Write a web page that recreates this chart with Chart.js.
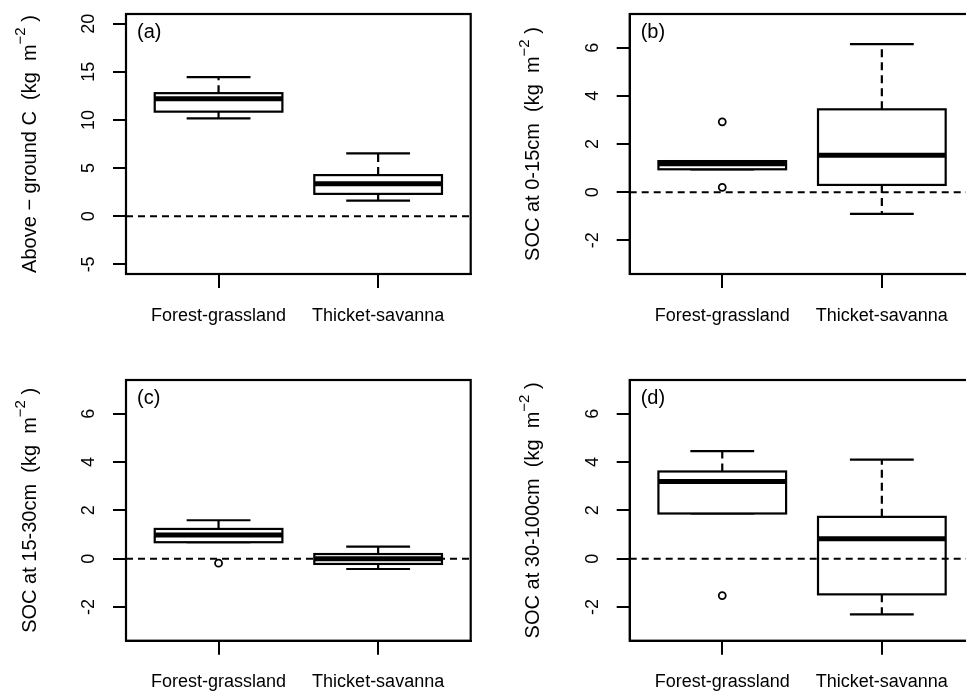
<!DOCTYPE html>
<html>
<head>
<meta charset="utf-8">
<script src="https://cdn.jsdelivr.net/npm/chart.js@4.4.0/dist/chart.umd.min.js"></script>
<style>
  html, body { margin: 0; padding: 0; background: #fff; overflow: hidden; }
  #wrap { position: relative; width: 966px; height: 692px; overflow: hidden; }
  canvas { position: absolute; }
</style>
</head>
<body>
<div id="wrap">
  <canvas id="pa" width="483" height="346" style="left:0;top:0"></canvas>
  <canvas id="pb" width="504" height="346" style="left:483px;top:0"></canvas>
  <canvas id="pc" width="483" height="346" style="left:0;top:346px"></canvas>
  <canvas id="pd" width="504" height="346" style="left:483px;top:346px"></canvas>
</div>
<script>
const groups = ['Forest-grassland', 'Thicket-savanna'];

// [lower whisker, Q1, median, Q3, upper whisker]
const agcForest = [10.17, 10.86, 12.19, 12.78, 14.45];
const agcThicket = [1.63, 2.32, 3.37, 4.27, 6.53];
const agcOutliers = [[], []];

const soc0Forest = [0.95, 0.95, 1.18, 1.29, 1.29];
const soc0Thicket = [-0.90, 0.30, 1.53, 3.44, 6.15];
const soc0Outliers = [[2.92, 0.20], []];

const soc15Forest = [0.68, 0.68, 0.98, 1.23, 1.59];
const soc15Thicket = [-0.43, -0.22, -0.01, 0.19, 0.50];
const soc15Outliers = [[-0.19], []];

const soc30Forest = [1.87, 1.87, 3.19, 3.61, 4.45];
const soc30Thicket = [-2.31, -1.48, 0.82, 1.73, 4.10];
const soc30Outliers = [[-1.53], []];

const agcTicks = [-5, 0, 5, 10, 15, 20];
const socTicks = [-2, 0, 2, 4, 6];

const fam = '"Liberation Sans", Arial, sans-serif';
Chart.defaults.font.family = fam;
Chart.defaults.color = '#000';

function drawLine(ctx, x1, y1, x2, y2) {
  ctx.beginPath();
  ctx.moveTo(x1, y1);
  ctx.lineTo(x2, y2);
  ctx.stroke();
}

function makePanel(id, letter, title, stats, outliers, yMin, yMax, yTicks, lay) {
  // outliers -> scatter points
  const outPts = [];
  outliers.forEach((list, i) => list.forEach(v => outPts.push({ x: i + 1, y: v })));

  const boxPlugin = {
    id: 'boxes',
    beforeDatasetsDraw(chart) {
      const { ctx, scales: { x, y } } = chart;
      stats.forEach((s, i) => {
        const cx = x.getPixelForValue(i + 1);
        const hw = x.getPixelForValue(i + 1.4) - cx;
        const cw = hw / 2;
        const [lo, q1, med, q3, hi] = s.map(v => y.getPixelForValue(v));
        ctx.save();
        ctx.strokeStyle = '#000';
        ctx.lineWidth = 2.2;
        ctx.setLineDash([8, 5]);
        drawLine(ctx, cx, q3, cx, hi);
        drawLine(ctx, cx, q1, cx, lo);
        ctx.setLineDash([]);
        drawLine(ctx, cx - cw, hi, cx + cw, hi);
        drawLine(ctx, cx - cw, lo, cx + cw, lo);
        ctx.fillStyle = '#fff';
        ctx.fillRect(cx - hw, q3, 2 * hw, q1 - q3);
        ctx.strokeRect(cx - hw, q3, 2 * hw, q1 - q3);
        ctx.lineWidth = 5;
        drawLine(ctx, cx - hw, med, cx + hw, med);
        ctx.restore();
      });
    }
  };

  const textPlugin = {
    id: 'texts',
    afterDraw(chart) {
      const { ctx, chartArea: a, scales: { y } } = chart;
      ctx.save();
      ctx.strokeStyle = '#000';
      ctx.lineWidth = 2.2;
      ctx.strokeRect(a.left, a.top, a.right - a.left, a.bottom - a.top);

      ctx.fillStyle = '#000';
      ctx.font = '20px ' + fam;
      ctx.textAlign = 'left';
      ctx.textBaseline = 'alphabetic';
      ctx.fillText(letter, a.left + 11, a.top + 24);

      // y tick labels, parallel to the axis
      ctx.font = '18px ' + fam;
      ctx.textAlign = 'center';
      ctx.textBaseline = 'middle';
      yTicks.forEach(v => {
        ctx.save();
        ctx.translate(a.left - 37, y.getPixelForValue(v));
        ctx.rotate(-Math.PI / 2);
        ctx.fillText(String(v), 0, 0);
        ctx.restore();
      });

      // y title with superscript
      const main = title + '  (kg  m';
      const sup = '\u22122';
      ctx.translate(a.left - 96, (a.top + a.bottom) / 2);
      ctx.rotate(-Math.PI / 2);
      ctx.textAlign = 'left';
      ctx.font = '20px ' + fam;
      const w1 = ctx.measureText(main).width;
      const w3 = ctx.measureText(' )').width;
      ctx.font = '15px ' + fam;
      const w2 = ctx.measureText(sup).width;
      let pos = -(w1 + w2 + w3) / 2;
      ctx.font = '20px ' + fam;
      ctx.fillText(main, pos, 0);
      pos += w1;
      ctx.font = '15px ' + fam;
      ctx.fillText(sup, pos, -9);
      pos += w2;
      ctx.font = '20px ' + fam;
      ctx.fillText(' )', pos, 0);
      ctx.restore();
    }
  };

  new Chart(document.getElementById(id), {
    type: 'scatter',
    data: {
      datasets: [
        {
          type: 'line',
          data: [{ x: 0.42, y: 0 }, { x: 2.58, y: 0 }],
          borderColor: '#000',
          borderWidth: 2,
          borderDash: [7, 5],
          pointRadius: 0
        },
        {
          data: outPts,
          pointStyle: 'circle',
          pointRadius: 3.5,
          borderColor: '#000',
          borderWidth: 1.8,
          backgroundColor: 'rgba(0,0,0,0)'
        }
      ]
    },
    options: {
      responsive: false,
      animation: false,
      devicePixelRatio: 1,
      layout: { padding: { top: lay.top, right: lay.right, left: 0, bottom: 0 } },
      plugins: { legend: { display: false }, tooltip: { enabled: false } },
      scales: {
        x: {
          type: 'linear',
          min: 0.42,
          max: 2.58,
          afterBuildTicks: s => { s.ticks = [{ value: 1 }, { value: 2 }]; },
          afterFit: s => { s.height = lay.xh; },
          ticks: {
            padding: 17,
            maxRotation: 0,
            autoSkip: false,
            font: { size: 18 },
            color: '#000',
            callback: v => groups[Math.round(v) - 1]
          },
          grid: { drawOnChartArea: false, drawTicks: true, tickLength: 14, color: '#000', lineWidth: 2 },
          border: { display: true, color: '#000', width: 2 }
        },
        y: {
          type: 'linear',
          min: yMin,
          max: yMax,
          afterBuildTicks: s => { s.ticks = yTicks.map(v => ({ value: v })); },
          afterFit: s => { s.width = lay.yw; },
          ticks: { display: false },
          grid: { drawOnChartArea: false, drawTicks: true, tickLength: 13, color: '#000', lineWidth: 2 },
          border: { display: true, color: '#000', width: 2 }
        }
      }
    },
    plugins: [boxPlugin, textPlugin]
  });
}

makePanel('pa', '(a)', 'Above \u2212 ground C', [agcForest, agcThicket], agcOutliers,
  -6, 21, agcTicks, { top: 14, right: 12.3, xh: 72, yw: 126 });
makePanel('pb', '(b)', 'SOC at 0-15cm', [soc0Forest, soc0Thicket], soc0Outliers,
  -3.4, 7.4, socTicks, { top: 14, right: 12.6, xh: 72, yw: 146.7 });
makePanel('pc', '(c)', 'SOC at 15-30cm', [soc15Forest, soc15Thicket], soc15Outliers,
  -3.4, 7.4, socTicks, { top: 34, right: 12.3, xh: 51.3, yw: 126 });
makePanel('pd', '(d)', 'SOC at 30-100cm', [soc30Forest, soc30Thicket], soc30Outliers,
  -3.4, 7.4, socTicks, { top: 34, right: 12.6, xh: 51.3, yw: 146.7 });
</script>
</body>
</html>
